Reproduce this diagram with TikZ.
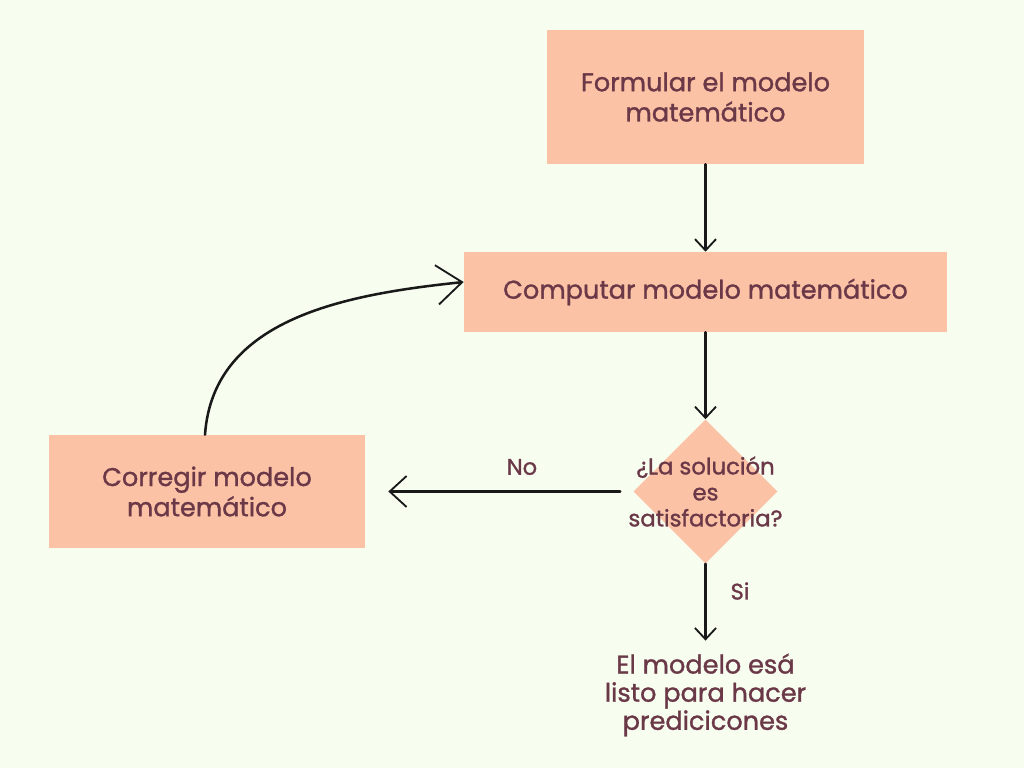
\documentclass[tikz,border=0pt]{standalone}
\usepackage{fontspec}
\setmainfont{Poppins}[FakeBold=1.2, AutoFakeBold=1.2]
\usetikzlibrary{shapes.geometric, arrows.meta}

\definecolor{fondo}{HTML}{F7FDEF}
\definecolor{caja}{HTML}{FCC2A5}
\definecolor{texto}{HTML}{6B3848}

\tikzset{
    paso/.style={fill=caja, text=texto, align=center, inner sep=0pt,
        font=\bfseries\fontsize{18.2}{21.5}\selectfont},
    decision/.style={diamond, fill=caja, inner sep=0pt, aspect=1},
    etiqueta/.style={text=texto, align=center},
    flecha/.style={line width=1.8pt, line cap=round, black!90,
        -{Straight Barb[length=8pt, width=15pt, line width=1.3pt]}}
}

\begin{document}
\begin{tikzpicture}[x=0.025cm, y=-0.025cm]

    % Fondo
    \fill[fondo] (0, 0) rectangle (1024, 768);

    % Cajas del proceso
    \node[paso, minimum width=7.925cm, minimum height=3.35cm] (formular) at (705.5, 97) {Formular el modelo\\matemático};
    \node[paso, minimum width=12.075cm, minimum height=2cm] (computar) at (705.5, 292) {Computar modelo matemático};
    \node[paso, minimum width=7.9cm, minimum height=2.825cm] (corregir) at (207, 491.5) {Corregir modelo\\matemático};

    % Rombo de decision
    \node[decision, minimum width=3.6cm, minimum height=3.6cm] (pregunta) at (705.5, 491.5) {};
    \node[etiqueta, font=\bfseries\fontsize{16.2}{18.5}\selectfont] (textopregunta) at (pregunta.center) {¿La solución\\es\\satisfactoria?};

    % Resultado final
    \node[etiqueta, font=\bfseries\fontsize{18.2}{20}\selectfont] (listo) at (705.5, 695) {El modelo esá\\listo para hacer\\predicicones};

    % Flechas
    \draw[flecha] (formular.south) -- (computar.north);
    \draw[flecha] (computar.south) -- (pregunta.north);
    \draw[flecha, -{Straight Barb[length=12pt, width=22pt, line width=1.3pt]}, shorten <=0.325cm, shorten >=0.575cm] (pregunta.west) -- (corregir.east);
    \draw[flecha, shorten >=0.2cm] (pregunta.south) -- (listo.north);
    \draw[flecha, -{Straight Barb[length=18pt, width=28pt, line width=1.3pt]}] ([xshift=-0.05cm]corregir.north) to[out=86, in=186] ([yshift=0.25cm]computar.west);

    % Etiquetas de las flechas
    \node[etiqueta, font=\bfseries\fontsize{16}{18}\selectfont] (no) at (522, 467) {No};
    \node[etiqueta, font=\bfseries\fontsize{16}{18}\selectfont] (si) at (740, 591) {Si};

\end{tikzpicture}
\end{document}
